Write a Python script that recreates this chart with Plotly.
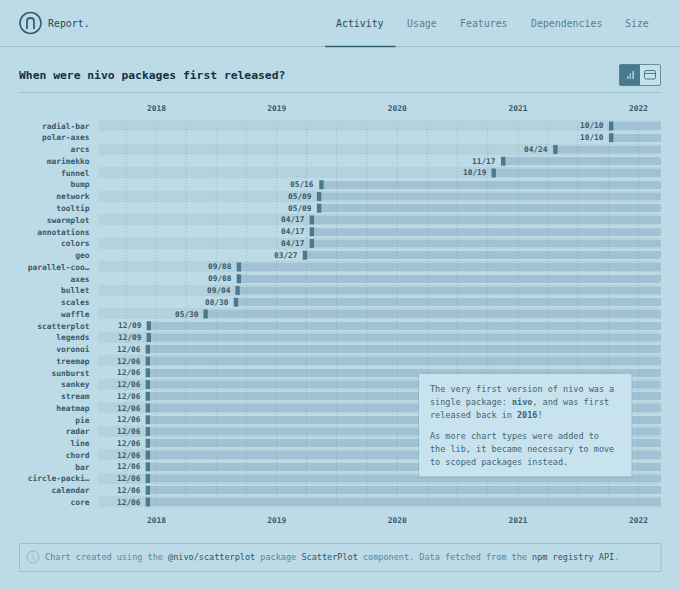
#!/usr/bin/env python
# coding=utf-8
"""nivo report - first release date of every package"""

import pandas as pd
import plotly.graph_objects as go

# data, top row first
packages = [
    "radial-bar", "polar-axes", "arcs", "marimekko", "funnel", "bump", "network",
    "tooltip", "swarmplot", "annotations", "colors", "geo", "parallel-coo…", "axes",
    "bullet", "scales", "waffle", "scatterplot", "legends", "voronoi", "treemap",
    "sunburst", "sankey", "stream", "heatmap", "pie", "radar", "line", "chord",
    "bar", "circle-packi…", "calendar", "core",
]
released = [
    "2021-10-10", "2021-10-10", "2021-04-24", "2020-11-17", "2020-10-19", "2019-05-16",
    "2019-05-09", "2019-05-09", "2019-04-17", "2019-04-17", "2019-04-17", "2019-03-27",
    "2018-09-08", "2018-09-08", "2018-09-04", "2018-08-30", "2018-05-30", "2017-12-09",
    "2017-12-09", "2017-12-06", "2017-12-06", "2017-12-06", "2017-12-06", "2017-12-06",
    "2017-12-06", "2017-12-06", "2017-12-06", "2017-12-06", "2017-12-06", "2017-12-06",
    "2017-12-06", "2017-12-06", "2017-12-06",
]
year_ticks = ["2018-01-01", "2019-01-01", "2020-01-01", "2021-01-01", "2022-01-01"]
year_labels = ["2018", "2019", "2020", "2021", "2022"]
axis_start = "2017-07-08"
axis_end = "2022-03-10"
tabs = ["Activity", "Usage", "Features", "Dependencies", "Size"]

W, H = 680, 590
MONO = "DejaVu Sans Mono"
BG = "#bddbe6"
STRIPE = "#b5d1dc"
BAR = "#a0c2d4"
MARK = "#497a8e"
TICK = "#38596a"
GRID = "rgba(105,140,158,0.4)"
LINE = "#9dbecb"


def X(p):
    return p / W


def Y(p):
    return 1 - p / H


def rounded_rect(x0, y0, x1, y1, r):
    # path en coordonnees papier depuis des pixels
    a, b, c, d = X(x0), Y(y0), X(x1), Y(y1)
    rx, ry = r / W, r / H
    return (
        f"M{a + rx},{b} L{c - rx},{b} Q{c},{b} {c},{b - ry} L{c},{d + ry} Q{c},{d} {c - rx},{d} "
        f"L{a + rx},{d} Q{a},{d} {a},{d + ry} L{a},{b - ry} Q{a},{b} {a + rx},{b} Z"
    )


def rect(x0, y0, x1, y1, fill=None, line=None, width=1):
    return dict(type="rect", xref="paper", yref="paper", x0=X(x0), x1=X(x1), y0=Y(y0), y1=Y(y1),
                fillcolor=fill or "rgba(0,0,0,0)", line=dict(color=line or "rgba(0,0,0,0)", width=width if line else 0),
                layer="above")


def path(d, fill=None, line=None, width=1):
    return dict(type="path", xref="paper", yref="paper", path=d, fillcolor=fill or "rgba(0,0,0,0)",
                line=dict(color=line or "rgba(0,0,0,0)", width=width if line else 0), layer="above")


def hline(x0, x1, y, color, width=1):
    return dict(type="line", xref="paper", yref="paper", x0=X(x0), x1=X(x1), y0=Y(y), y1=Y(y),
                line=dict(color=color, width=width), layer="above")


def text(x, y, s, size, color, anchor="left", bold=False, family=MONO):
    # les annotations ont un padding d'environ 2px
    if anchor == "left":
        x = x - 2
    return dict(xref="paper", yref="paper", x=X(x), y=Y(y), text=f"<b>{s}</b>" if bold else s,
                showarrow=False, xanchor=anchor, yanchor="middle", align="left",
                font=dict(family=family, size=size, color=color))


dates = pd.to_datetime(released)
start = pd.Timestamp(axis_start)
end = pd.Timestamp(axis_end)
grid_dates = pd.date_range("2017-10-01", "2022-01-01", freq="3MS")

fig = go.Figure()

# bandes de fond, une ligne sur deux
fig.add_trace(go.Bar(
    y=packages[::2],
    x=[(end - start).total_seconds() * 1000] * len(packages[::2]),
    base=[axis_start] * len(packages[::2]),
    orientation="h", width=0.94,
    marker=dict(color=STRIPE, line=dict(width=0)),
    hoverinfo="skip",
))

# duree depuis la premiere version
fig.add_trace(go.Bar(
    y=packages,
    x=[(end - d).total_seconds() * 1000 for d in dates],
    base=released,
    orientation="h", width=0.66,
    marker=dict(color=BAR, line=dict(width=0)),
    hoverinfo="skip",
))

# grille trimestrielle, au dessus des barres
grid_x, grid_y = [], []
for d in grid_dates:
    grid_x += [d, d, None]
    grid_y += [packages[0], packages[-1], None]
fig.add_trace(go.Scatter(
    x=grid_x, y=grid_y, xaxis="x2", mode="lines",
    line=dict(color=GRID, width=1, dash="1px,2px"),
    hoverinfo="skip",
))

fig.add_trace(go.Scatter(
    x=released, y=packages, xaxis="x2", mode="markers",
    marker=dict(symbol="line-ns", size=6.4, color=MARK, line=dict(color=MARK, width=4.4)),
))

annotations = []
for name, d in zip(packages, dates):
    annotations.append(dict(
        xref="x2", yref="y", x=d, y=name, text=f"<b>{d.strftime('%m/%d')}</b>", showarrow=False,
        xanchor="right", yanchor="middle", xshift=-5,
        font=dict(family=MONO, size=7.8, color=TICK),
    ))

# en-tete
annotations.append(text(48, 23, "Report.", 9.9, "#26495a"))
for label, tab_x, color in zip(tabs, [336, 407, 460, 531, 625],
                               ["#26495a", "#5b7f90", "#5b7f90", "#5b7f90", "#5b7f90"]):
    annotations.append(text(tab_x, 23, label, 9.9, color))
annotations.append(text(19, 75, "When were nivo packages first released?", 11.35, "#12303f", bold=True))

# encart
card_lines = [
    (389, "The very first version of nivo was a"),
    (402, "single package: <b>nivo</b>, and was first"),
    (415, "released back in <b>2016</b>!"),
    (436, "As more chart types were added to"),
    (449, "the lib, it became necessary to move"),
    (462, "to scoped packages instead."),
]
for line_y, line in card_lines:
    annotations.append(text(430, line_y, line, 8.5, "#3f6475"))

# pied de page
code = "#2f5668"
annotations.append(text(
    45, 557,
    f"Chart created using the <span style='color:{code}'>@nivo/scatterplot</span> package "
    f"<span style='color:{code}'>ScatterPlot</span> component. Data fetched from the "
    f"<span style='color:{code}'>npm registry API</span>.",
    8.52, "#5f8496",
))
annotations.append(text(33, 557, "i", 7, "#8fb4c4", anchor="center"))

shapes = [
    hline(0, 680, 46.5, LINE),
    hline(325, 395.5, 46.5, "#2f6073", 1.5),
    hline(19, 661, 92.5, LINE),
    # logo
    dict(type="circle", xref="paper", yref="paper", x0=X(20), x1=X(41), y0=Y(12.5), y1=Y(33.5),
         line=dict(color="#2f6073", width=1.6), layer="above"),
    path(f"M{X(27)},{Y(29)} L{X(27)},{Y(21)} Q{X(27)},{Y(18)} {X(30.5)},{Y(18)} "
         f"Q{X(34)},{Y(18)} {X(34)},{Y(21)} L{X(34)},{Y(29)}", None, "#2f6073", 1.8),
    # boutons
    path(rounded_rect(619.5, 64.5, 660.5, 85.5, 1.5), "#c6e1ea", "#5f8ea2", 1),
    path(rounded_rect(619.5, 64.5, 640, 85.5, 1), MARK),
    rect(627, 76, 628.4, 79, "#a8ccd9"),
    rect(629.6, 73.5, 631, 79, "#a8ccd9"),
    rect(632.4, 71, 634, 79, "#a8ccd9"),
    path(rounded_rect(644.5, 70.5, 655.5, 79, 1.5), None, MARK, 1),
    hline(644.5, 655.5, 73.5, MARK),
    # encart
    rect(418, 373.5, 632.5, 478, "rgba(70,110,130,0.16)"),
    rect(419, 374, 631.5, 476.5, "#c8e3ee"),
    # pied
    path(rounded_rect(19.5, 543.5, 661, 571.5, 1), None, LINE, 1),
    dict(type="circle", xref="paper", yref="paper", x0=X(27), x1=X(39), y0=Y(551), y1=Y(563),
         line=dict(color="#8fb4c4", width=1), layer="above"),
]

axis_range = [axis_start, axis_end]
tick_style = dict(
    type="date", range=axis_range, tickmode="array", tickvals=year_ticks, ticktext=[f"<b>{y}</b>" for y in year_labels],
    tickfont=dict(family=MONO, size=7.9, color=TICK), showgrid=False, zeroline=False, showline=False,
    ticks="outside", ticklen=5, tickcolor="rgba(0,0,0,0)",
)

fig.update_layout(
    width=W, height=H, autosize=False,
    margin=dict(l=0, r=0, t=0, b=0),
    paper_bgcolor=BG, plot_bgcolor="rgba(0,0,0,0)",
    barmode="overlay", showlegend=False, bargap=0,
    font=dict(family=MONO),
    xaxis=dict(domain=[X(98), X(661)], side="bottom", anchor="y", **tick_style),
    xaxis2=dict(domain=[X(98), X(661)], side="top", anchor="y", overlaying="x", **tick_style),
    yaxis=dict(
        domain=[Y(507.9), Y(120.1)], type="category", categoryorder="array", categoryarray=packages,
        range=[len(packages) - 0.5, -0.5], showgrid=False, zeroline=False, showline=False,
        ticks="outside", ticklen=6, tickcolor="rgba(0,0,0,0)", tickmode="array", tickvals=packages,
        ticktext=[f"<b>{p}</b>" for p in packages],
        tickfont=dict(family=MONO, size=7.9, color=TICK),
    ),
    shapes=shapes,
    annotations=annotations,
)

fig.write_html(
    "out.html",
    config={"displayModeBar": False},
    post_script="document.body.style.margin='0';document.body.style.overflow='hidden';",
)
